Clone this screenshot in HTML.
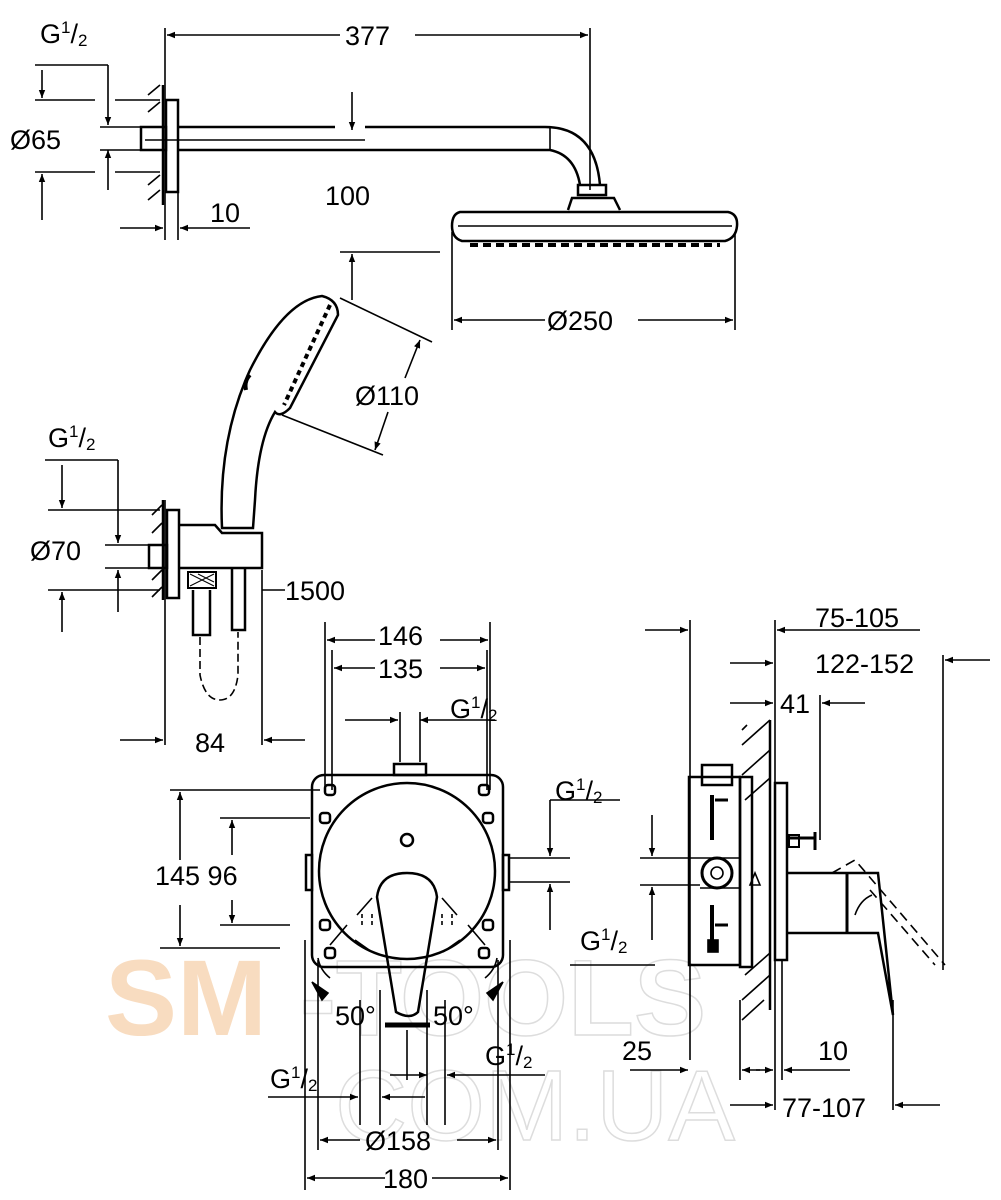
<!DOCTYPE html>
<html><head><meta charset="utf-8"><style>
html,body{margin:0;padding:0;background:#fff;}
svg{display:block;}
text{font-family:"Liberation Sans",sans-serif;font-size:27px;fill:#000;}
.s{font-size:17px;}
</style></head><body>
<svg width="1001" height="1200" viewBox="0 0 1001 1200" xmlns="http://www.w3.org/2000/svg">
<defs>
<marker id="a" viewBox="0 0 10 10" refX="10" refY="5" markerWidth="18" markerHeight="8" markerUnits="userSpaceOnUse" orient="auto-start-reverse"><path d="M0,1 L10,5 L0,9z" fill="#000"/></marker>
</defs>
<!-- watermark -->
<text x="105" y="1035" style="font-size:108px;font-weight:bold;fill:#f8dcc0">SM</text>
<text x="300" y="1035" style="font-size:108px;font-weight:bold;fill:none;stroke:#ddd;stroke-width:1.5">-TOOLS</text>
<text x="335" y="1140" style="font-size:100px;fill:none;stroke:#ddd;stroke-width:1.5">COM.UA</text>

<g stroke="#000" stroke-width="1.6" fill="none">
<!-- TOP 377 -->
<line x1="165" y1="28" x2="165" y2="240"/>
<line x1="590" y1="28" x2="590" y2="190"/>
<line x1="167" y1="35" x2="340" y2="35" marker-start="url(#a)"/>
<line x1="415" y1="35" x2="588" y2="35" marker-end="url(#a)"/>
<!-- G1/2 top left -->
<line x1="35" y1="65" x2="108" y2="65"/>
<line x1="108" y1="65" x2="108" y2="125" marker-end="url(#a)"/>
<line x1="108" y1="150" x2="108" y2="190" marker-start="url(#a)"/>
<line x1="42" y1="70" x2="42" y2="98" marker-end="url(#a)"/>
<line x1="42" y1="174" x2="42" y2="220" marker-start="url(#a)"/>
<line x1="35" y1="100" x2="95" y2="100"/>
<line x1="115" y1="100" x2="160" y2="100"/>
<line x1="35" y1="172" x2="95" y2="172"/>
<line x1="115" y1="172" x2="160" y2="172"/>
<line x1="100" y1="127" x2="140" y2="127"/>
<line x1="100" y1="150" x2="140" y2="150"/>
<!-- wall plate top -->
<line x1="163" y1="85" x2="163" y2="205" stroke-width="2.5"/>
<path d="M148,95 l12,-10 M148,112 l12,-10 M148,185 l12,-10 M148,200 l12,-10"/>
<rect x="166" y="100" width="12" height="92" stroke-width="2.5"/>
<rect x="141" y="127" width="25" height="23" stroke-width="2.5"/>
<line x1="145" y1="140" x2="365" y2="140"/>
<!-- arm -->
<path d="M178,127 H335 M365,127 H545 Q595,127 600,185 M178,150 H550 Q575,155 580,185" stroke-width="2.5"/>
<line x1="550" y1="127" x2="550" y2="150"/>
<line x1="352" y1="92" x2="352" y2="130" marker-end="url(#a)"/>
<!-- 10 dim -->
<line x1="120" y1="228" x2="163" y2="228" marker-end="url(#a)"/>
<line x1="250" y1="228" x2="180" y2="228" marker-end="url(#a)"/>
<line x1="178" y1="192" x2="178" y2="240"/>
<!-- head -->
<rect x="578" y="185" width="28" height="10" stroke-width="2.5"/>
<path d="M568,210 L572,198 H614 L620,210" stroke-width="2.5"/>
<path d="M460,212 H728 Q738,214 737,226 Q736,238 725,241 H462 Q452,238 452,226 Q452,214 460,212Z" stroke-width="2.5"/>
<line x1="458" y1="226" x2="732" y2="226"/>
<path d="M470,245 H720" stroke-width="4" stroke-dasharray="8,5"/>
<!-- 100 lower line -->
<line x1="340" y1="252" x2="440" y2="252"/>
<line x1="352" y1="300" x2="352" y2="254" marker-end="url(#a)"/>
<!-- 250 -->
<line x1="452" y1="232" x2="452" y2="330"/>
<line x1="735" y1="232" x2="735" y2="330"/>
<line x1="454" y1="320" x2="545" y2="320" marker-start="url(#a)"/>
<line x1="638" y1="320" x2="733" y2="320" marker-end="url(#a)"/>
<!-- hand shower -->
<path d="M322,296 Q338,300 338,315 L290,408 Q280,418 275,412 Q258,440 255,500 L253,528 H222 Q218,440 250,370 Q285,300 322,296Z" stroke-width="2.5"/>
<path d="M330,305 L284,405" stroke-width="4" stroke-dasharray="5,4"/>
<path d="M250,375 q-6,6 -4,15" stroke-width="4"/>
<line x1="340" y1="298" x2="432" y2="342"/>
<line x1="282" y1="415" x2="383" y2="455"/>
<line x1="405" y1="378" x2="420" y2="340" marker-end="url(#a)"/>
<line x1="388" y1="412" x2="375" y2="450" marker-end="url(#a)"/>
<!-- G1/2 second -->
<line x1="45" y1="460" x2="118" y2="460"/>
<line x1="118" y1="460" x2="118" y2="543" marker-end="url(#a)"/>
<line x1="118" y1="570" x2="118" y2="612" marker-start="url(#a)"/>
<line x1="62" y1="465" x2="62" y2="508" marker-end="url(#a)"/>
<line x1="62" y1="592" x2="62" y2="632" marker-start="url(#a)"/>
<line x1="48" y1="510" x2="160" y2="510"/>
<line x1="48" y1="590" x2="160" y2="590"/>
<line x1="105" y1="545" x2="148" y2="545"/>
<line x1="105" y1="568" x2="148" y2="568"/>
<line x1="165" y1="500" x2="165" y2="745" />
<line x1="163" y1="500" x2="163" y2="600" stroke-width="2.5"/>
<path d="M152,515 l10,-10 M152,533 l10,-10 M152,580 l10,-10 M152,597 l10,-10"/>
<rect x="167" y="510" width="12" height="88" stroke-width="2.5"/>
<rect x="149" y="545" width="18" height="23" stroke-width="2.5"/>
<path d="M179,525 H215 L222,533 H262 V568 H179" stroke-width="2.5"/>
<rect x="188" y="572" width="28" height="16" stroke-width="2"/>
<path d="M190,574 l24,12 M190,586 l24,-12 M198,574 l16,8" stroke-width="1"/>
<path d="M193,590 V635 H210 V590 M232,568 V630 H245 V568" stroke-width="2.5"/>
<path d="M200,637 V675 Q205,700 220,700 Q235,700 238,675 V632" stroke-dasharray="8,4"/>
<line x1="262" y1="590" x2="285" y2="590"/>
<line x1="262" y1="570" x2="262" y2="745"/>
<line x1="120" y1="740" x2="163" y2="740" marker-end="url(#a)"/>
<line x1="305" y1="740" x2="264" y2="740" marker-end="url(#a)"/>

<!-- MIXER FRONT -->
<line x1="325" y1="622" x2="325" y2="790"/>
<line x1="490" y1="622" x2="490" y2="790"/>
<line x1="332" y1="650" x2="332" y2="790"/>
<line x1="487" y1="650" x2="487" y2="790"/>
<line x1="327" y1="640" x2="375" y2="640" marker-start="url(#a)"/>
<line x1="440" y1="640" x2="488" y2="640" marker-end="url(#a)"/>
<line x1="334" y1="668" x2="375" y2="668" marker-start="url(#a)"/>
<line x1="440" y1="668" x2="485" y2="668" marker-end="url(#a)"/>
<line x1="345" y1="720" x2="398" y2="720" marker-end="url(#a)"/>
<line x1="495" y1="720" x2="420" y2="720" marker-end="url(#a)"/>
<line x1="400" y1="712" x2="400" y2="762"/>
<line x1="420" y1="712" x2="420" y2="762"/>
<rect x="394" y="764" width="32" height="11" stroke-width="2.5"/>
<rect x="312" y="775" width="191" height="192" rx="12" stroke-width="2.5"/>
<circle cx="407" cy="871" r="88" stroke-width="2.5"/>
<circle cx="407" cy="840" r="6" stroke-width="2.5"/>
<g stroke-width="2.5">
<rect x="325" y="785" width="10" height="10" rx="3"/><rect x="479" y="785" width="10" height="10" rx="3"/>
<rect x="320" y="813" width="10" height="10" rx="3"/><rect x="483" y="813" width="10" height="10" rx="3"/>
<rect x="320" y="920" width="10" height="10" rx="3"/><rect x="483" y="920" width="10" height="10" rx="3"/>
<rect x="325" y="948" width="10" height="10" rx="3"/><rect x="479" y="948" width="10" height="10" rx="3"/>
</g>
<rect x="306" y="855" width="6" height="35" stroke-width="2.5"/>
<rect x="503" y="855" width="6" height="35" stroke-width="2.5"/>
<path d="M377,897 Q380,873 407,873 Q434,873 437,897 L418,1012 Q410,1020 396,1012 Z" stroke-width="2.5"/>
<path d="M372,898 L357,915 M442,898 L457,915 M347,925 L330,945 M468,925 L485,945" />
<path d="M362,925 v-14 M372,925 v-14 M442,925 v-14 M452,925 v-14" stroke-dasharray="4,3"/>
<path d="M355,940 L372,952 M460,940 L443,952"/>
<path d="M318,958 Q320,970 330,978 M497,958 Q495,970 485,978"/>
<path d="M312,982 L328,993 L322,1000Z M503,982 L487,993 L493,1000Z" fill="#000"/>
<path d="M385,1025 L430,1025" stroke-width="5"/>
<!-- 145/96 -->
<line x1="170" y1="790" x2="320" y2="790"/>
<line x1="220" y1="818" x2="310" y2="818"/>
<line x1="220" y1="925" x2="290" y2="925"/>
<line x1="160" y1="948" x2="280" y2="948"/>
<line x1="180" y1="792" x2="180" y2="860" marker-start="url(#a)"/>
<line x1="180" y1="905" x2="180" y2="946" marker-end="url(#a)"/>
<line x1="232" y1="820" x2="232" y2="855" marker-start="url(#a)"/>
<line x1="232" y1="900" x2="232" y2="923" marker-end="url(#a)"/>
<!-- right G1/2 -->
<line x1="550" y1="800" x2="620" y2="800"/>
<line x1="550" y1="800" x2="550" y2="856" marker-end="url(#a)"/>
<line x1="550" y1="884" x2="550" y2="930" marker-start="url(#a)"/>
<line x1="510" y1="858" x2="570" y2="858"/>
<line x1="510" y1="882" x2="570" y2="882"/>
<!-- bottom dims -->
<line x1="305" y1="940" x2="305" y2="1190"/>
<line x1="318" y1="960" x2="318" y2="1150"/>
<line x1="498" y1="960" x2="498" y2="1150"/>
<line x1="510" y1="940" x2="510" y2="1190"/>
<line x1="360" y1="1000" x2="360" y2="1125"/>
<line x1="380" y1="990" x2="380" y2="1125"/>
<line x1="407" y1="1030" x2="407" y2="1080"/>
<line x1="427" y1="990" x2="427" y2="1125"/>
<line x1="445" y1="1000" x2="445" y2="1125"/>
<line x1="390" y1="1075" x2="427" y2="1075" marker-end="url(#a)"/>
<line x1="545" y1="1075" x2="447" y2="1075" marker-end="url(#a)"/>
<line x1="268" y1="1097" x2="358" y2="1097" marker-end="url(#a)"/>
<line x1="425" y1="1097" x2="382" y2="1097" marker-end="url(#a)"/>
<line x1="320" y1="1140" x2="360" y2="1140" marker-start="url(#a)"/>
<line x1="457" y1="1140" x2="496" y2="1140" marker-end="url(#a)"/>
<line x1="307" y1="1178" x2="385" y2="1178" marker-start="url(#a)"/>
<line x1="432" y1="1178" x2="508" y2="1178" marker-end="url(#a)"/>

<!-- SIDE VIEW -->
<line x1="690" y1="620" x2="690" y2="1060"/>
<line x1="775" y1="620" x2="775" y2="1110"/>
<line x1="820" y1="695" x2="820" y2="840"/>
<line x1="943" y1="655" x2="943" y2="970"/>
<line x1="893" y1="1000" x2="893" y2="1110"/>
<line x1="740" y1="1000" x2="740" y2="1080"/>
<line x1="782" y1="960" x2="782" y2="1080"/>
<line x1="645" y1="630" x2="688" y2="630" marker-end="url(#a)"/>
<line x1="920" y1="630" x2="777" y2="630" marker-end="url(#a)"/>
<line x1="730" y1="663" x2="773" y2="663" marker-end="url(#a)"/>
<line x1="990" y1="660" x2="945" y2="660" marker-end="url(#a)"/>
<line x1="730" y1="703" x2="773" y2="703" marker-end="url(#a)"/>
<line x1="865" y1="703" x2="822" y2="703" marker-end="url(#a)"/>
<line x1="770" y1="720" x2="770" y2="1010" stroke-width="2.5"/>
<path d="M742,745 l28,-25 M742,775 l28,-25 M745,800 l25,-22 M745,975 l25,-22 M742,1000 l28,-25 M742,1020 l22,-20 M742,730 l5,-5"/>
<rect x="689" y="777" width="51" height="188" stroke-width="2.5"/>
<rect x="702" y="765" width="30" height="20" stroke-width="2.5"/>
<rect x="740" y="777" width="12" height="190" stroke-width="2.5"/>
<rect x="775" y="783" width="12" height="177" stroke-width="2.5"/>
<path d="M712,795 V840 M712,905 V940" stroke-width="4"/>
<path d="M715,800 H728 M715,925 H728" stroke-width="3"/>
<path d="M700,858 H740 M700,888 H740"/>
<circle cx="717" cy="873" r="15" stroke-width="3"/>
<circle cx="717" cy="873" r="6"/>
<rect x="708" y="940" width="10" height="12" fill="#000"/>
<path d="M787,838 H815 M815,832 V850" stroke-width="3"/>
<rect x="789" y="835" width="10" height="12" stroke-width="2"/>
<path d="M760,885 l-5,-12 l-5,12z"/>
<path d="M787,873 H878 L893,1015 L878,933 H787" stroke-width="2.5"/>
<line x1="847" y1="873" x2="847" y2="933" stroke-width="3"/>
<path d="M855,915 Q860,900 872,895"/>
<path d="M832,873 L855,860 L945,965" stroke-dasharray="10,6"/>
<path d="M870,890 L935,965" stroke-dasharray="10,6"/>
<line x1="640" y1="858" x2="700" y2="858"/>
<line x1="640" y1="885" x2="700" y2="885"/>
<line x1="652" y1="815" x2="652" y2="856" marker-end="url(#a)"/>
<line x1="652" y1="940" x2="652" y2="887" marker-end="url(#a)"/>
<line x1="570" y1="965" x2="655" y2="965"/>
<line x1="630" y1="1070" x2="688" y2="1070" marker-end="url(#a)"/>
<line x1="742" y1="1070" x2="760" y2="1070" marker-start="url(#a)"/>
<line x1="756" y1="1070" x2="773" y2="1070" marker-end="url(#a)"/>
<line x1="850" y1="1070" x2="784" y2="1070" marker-end="url(#a)"/>
<line x1="730" y1="1105" x2="773" y2="1105" marker-end="url(#a)"/>
<line x1="940" y1="1105" x2="895" y2="1105" marker-end="url(#a)"/>
</g>

<!-- texts -->
<text x="40" y="43">G<tspan class="s" dy="-10">1</tspan><tspan dy="10">/</tspan><tspan class="s" dy="3">2</tspan></text>
<text x="345" y="45">377</text>
<text x="10" y="149">Ø65</text>
<text x="325" y="205">100</text>
<text x="210" y="222">10</text>
<text x="547" y="330">Ø250</text>
<text x="355" y="405">Ø110</text>
<text x="48" y="447">G<tspan class="s" dy="-10">1</tspan><tspan dy="10">/</tspan><tspan class="s" dy="3">2</tspan></text>
<text x="30" y="560">Ø70</text>
<text x="285" y="600">1500</text>
<text x="195" y="752">84</text>
<text x="378" y="645">146</text>
<text x="378" y="678">135</text>
<text x="450" y="718">G<tspan class="s" dy="-10">1</tspan><tspan dy="10">/</tspan><tspan class="s" dy="3">2</tspan></text>
<text x="555" y="800">G<tspan class="s" dy="-10">1</tspan><tspan dy="10">/</tspan><tspan class="s" dy="3">2</tspan></text>
<text x="155" y="885">145 96</text>
<text x="335" y="1025">50°</text>
<text x="433" y="1025">50°</text>
<text x="485" y="1065">G<tspan class="s" dy="-10">1</tspan><tspan dy="10">/</tspan><tspan class="s" dy="3">2</tspan></text>
<text x="270" y="1088">G<tspan class="s" dy="-10">1</tspan><tspan dy="10">/</tspan><tspan class="s" dy="3">2</tspan></text>
<text x="365" y="1150">Ø158</text>
<text x="383" y="1188">180</text>
<text x="580" y="950">G<tspan class="s" dy="-10">1</tspan><tspan dy="10">/</tspan><tspan class="s" dy="3">2</tspan></text>
<text x="815" y="627">75-105</text>
<text x="815" y="673">122-152</text>
<text x="780" y="713">41</text>
<text x="622" y="1060">25</text>
<text x="818" y="1060">10</text>
<text x="782" y="1117">77-107</text>
</svg>
</body></html>
